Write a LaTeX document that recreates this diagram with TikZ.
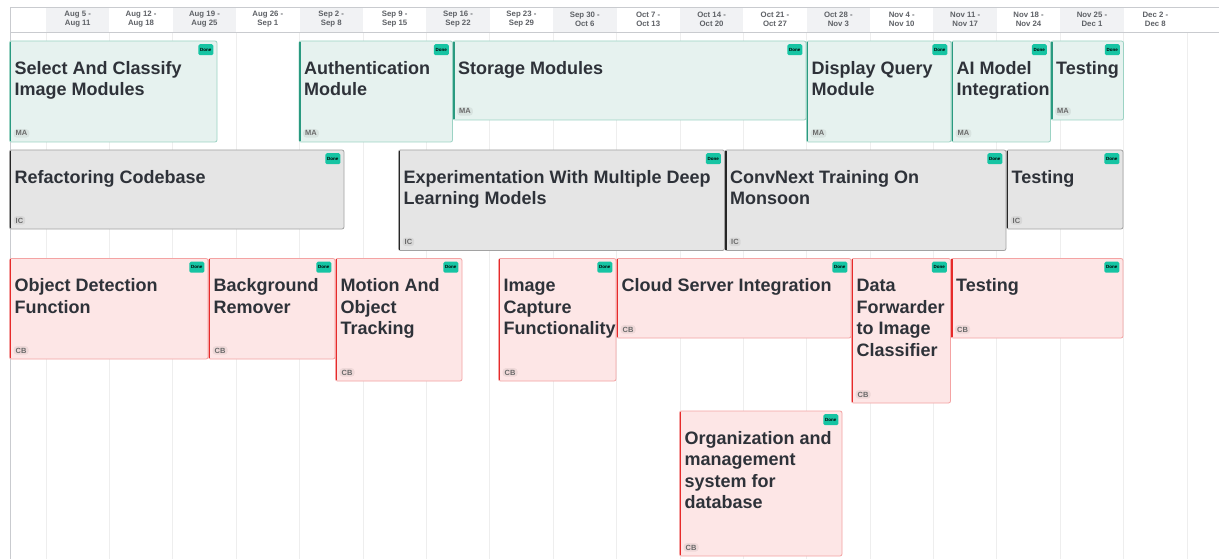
\documentclass[tikz,border=0pt]{standalone}
\usepackage{fontspec}
\setmainfont{Liberation Sans}
\definecolor{maFill}{HTML}{E6F2EF}
\definecolor{maBorder}{HTML}{9CD3C4}
\definecolor{maBar}{HTML}{2A9A80}
\definecolor{icFill}{HTML}{E5E5E5}
\definecolor{icBorder}{HTML}{A2A2A2}
\definecolor{icBar}{HTML}{262626}
\definecolor{cbFill}{HTML}{FDE6E6}
\definecolor{cbBorder}{HTML}{F4A3A3}
\definecolor{cbBar}{HTML}{E62A2A}
\definecolor{badgeCol}{HTML}{16C4A3}
\definecolor{titleCol}{HTML}{2E3239}
\definecolor{hdrText}{HTML}{5E6166}
\definecolor{hdrFill}{HTML}{F1F2F4}
\definecolor{hdrLine}{HTML}{C9CBCF}
\definecolor{gridCol}{HTML}{EEEEEE}
\definecolor{initCol}{HTML}{6A6A6A}
\tikzset{
  card/.style={rounded corners=2pt, line width=0.8pt, inner sep=0pt, outer sep=0pt},
  macard/.style={fill=maFill, draw=maBorder},
  iccard/.style={fill=icFill, draw=icBorder},
  cbcard/.style={fill=cbFill, draw=cbBorder},
  mabar/.style={draw=maBar, line width=1.8pt},
  icbar/.style={draw=icBar, line width=1.8pt},
  cbbar/.style={draw=cbBar, line width=1.8pt},
  cardtitle/.style={inner sep=0pt, text=titleCol, font=\fontsize{18}{21.5}\selectfont\bfseries},
  badge/.style={fill=badgeCol, rounded corners=1.5pt, inner sep=0pt, minimum width=15pt, minimum height=11pt, text=black, font=\fontsize{4.5}{5}\selectfont\bfseries},
  initials/.style={fill=black, fill opacity=0.06, text opacity=1, rounded corners=3pt, inner xsep=2pt, inner ysep=1.6pt, text=initCol, font=\fontsize{7.5}{8}\selectfont\bfseries},
  hdrlabel/.style={align=center, inner sep=0pt, text=hdrText, font=\fontsize{7.8}{9}\selectfont\bfseries},
  gridline/.style={draw=gridCol, line width=0.8pt},
  hdrline/.style={draw=hdrLine, line width=1pt}
}
\newcommand\mycard[8]{%
  \node[card, #6card, minimum width={(#4-#2)*1pt}, minimum height={(#5-#3)*1pt}, anchor=north west] (#1) at (#2,#3) {};
  \draw[#6bar] ([xshift=0.9pt,yshift=-0.8pt]#1.north west) -- ([xshift=0.9pt,yshift=0.8pt]#1.south west);
  \node[cardtitle, anchor=base west] (#1t) at ([xshift=5pt,yshift=-33.3pt]#1.north west) {\parbox[t]{600pt}{\raggedright #7}};
  \node[badge, anchor=north east] (#1d) at ([xshift=-3.5pt,yshift=-3pt]#1.north east) {Done};
  \node[initials, anchor=base west] (#1i) at ([xshift=4pt,yshift=6pt]#1.south west) {#8};
}
\begin{document}
\begin{tikzpicture}[x=1pt, y=-1pt]
\useasboundingbox[fill=white] (0,0) rectangle (1219,559);
% header shading
\foreach \i in {0,2,...,16} {
  \fill[hdrFill] ({46+\i*63.39},8.5) rectangle ({46+(\i+1)*63.39},33);
}
% grid
\foreach \i in {0,...,18} {
  \draw[gridline] ({46+\i*63.39},33) -- ({46+\i*63.39},559);
}
\draw[hdrline] (10,8) -- (1219,8);
\draw[hdrline] (10,33) -- (1219,33);
\draw[hdrline] (10,8) -- (10,559);
% header labels
\foreach \a/\b [count=\i from 0] in {Aug 5 -/Aug 11, Aug 12 -/Aug 18, Aug 19 -/Aug 25, Aug 26 -/Sep 1, Sep 2 -/Sep 8, Sep 9 -/Sep 15, Sep 16 -/Sep 22, Sep 23 -/Sep 29, Sep 30 -/Oct 6, Oct 7 -/Oct 13, Oct 14 -/Oct 20, Oct 21 -/Oct 27, Oct 28 -/Nov 3, Nov 4 -/Nov 10, Nov 11 -/Nov 17, Nov 18 -/Nov 24, Nov 25 -/Dec 1, Dec 2 -/Dec 8} {
  \node[hdrlabel] (h\i) at ({46+(\i+0.5)*63.39},19.5) {\a\\\b};
}
% MA row
\mycard{c1}{9.5}{41}{217}{142}{ma}{Select And Classify\\Image Modules}{MA}
\mycard{c2}{299}{41}{452.5}{142}{ma}{Authentication\\Module}{MA}
\mycard{c3}{453}{41}{806}{120}{ma}{Storage Modules}{MA}
\mycard{c4}{806.5}{41}{951}{142}{ma}{Display Query\\Module}{MA}
\mycard{c5}{951.5}{41}{1050.5}{142}{ma}{AI Model\\Integration}{MA}
\mycard{c6}{1051}{41}{1123.5}{120}{ma}{Testing}{MA}
% IC row
\mycard{i1}{9.5}{150}{344}{229}{ic}{Refactoring Codebase}{IC}
\mycard{i2}{398.5}{150}{724.5}{250.5}{ic}{Experimentation With Multiple Deep\\Learning Models}{IC}
\mycard{i3}{725}{150}{1006}{250.5}{ic}{ConvNext Training On\\Monsoon}{IC}
\mycard{i4}{1006.5}{150}{1123}{229}{ic}{Testing}{IC}
% CB row
\mycard{r1}{9.5}{258.5}{208}{359}{cb}{Object Detection\\Function}{CB}
\mycard{r2}{208.5}{258.5}{335}{359}{cb}{Background\\Remover}{CB}
\mycard{r3}{335.5}{258.5}{462}{381}{cb}{Motion And\\Object\\Tracking}{CB}
\mycard{r4}{498.5}{258.5}{616}{381}{cb}{Image\\Capture\\Functionality}{CB}
\mycard{r5}{616.5}{258.5}{851}{338}{cb}{Cloud Server Integration}{CB}
\mycard{r6}{851.5}{258.5}{950.5}{403}{cb}{Data\\Forwarder\\to Image\\Classifier}{CB}
\mycard{r7}{951}{258.5}{1123}{338}{cb}{Testing}{CB}
\mycard{r8}{679.5}{411}{842}{556}{cb}{Organization and\\management\\system for\\database}{CB}
\end{tikzpicture}
\end{document}
